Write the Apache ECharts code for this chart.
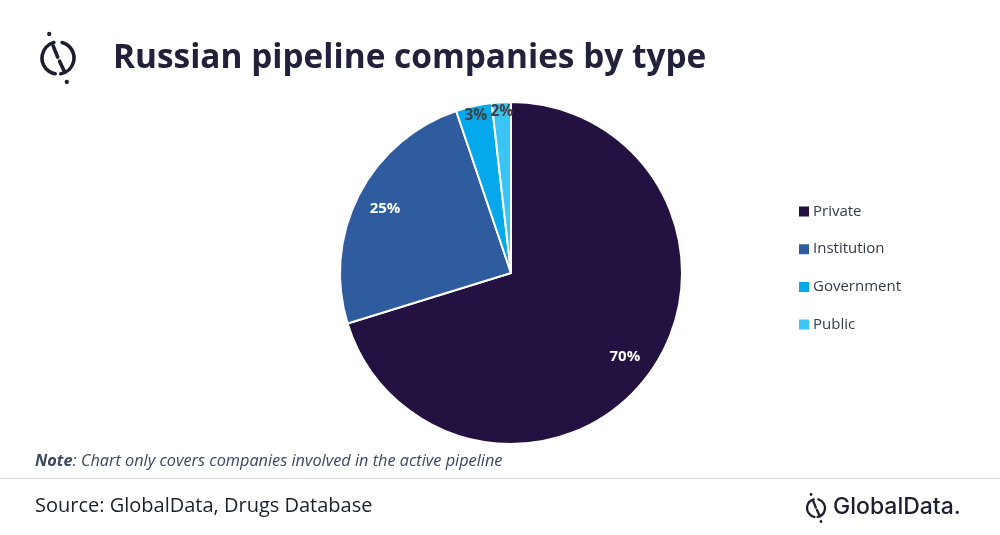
<!DOCTYPE html>
<html>
<head>
<meta charset="utf-8">
<script src="https://cdn.jsdelivr.net/npm/echarts@6/dist/echarts.min.js"></script>
<style>
html,body{margin:0;padding:0;background:#fff;}
#main{width:1000px;height:535px;}
</style>
</head>
<body>
<div id="main"></div>
<script>
var categories = ['Private', 'Institution', 'Government', 'Public'];
var values = [70.3, 24.6, 3.4, 1.8];
var colors = ['#221141', '#2E5C9E', '#05A8EA', '#3BC5F7'];
var titleText = 'Russian pipeline companies by type';
var noteLabel = 'Note';
var noteText = ': Chart only covers companies involved in the active pipeline';
var sourceText = 'Source: GlobalData, Drugs Database';
var brandText = 'GlobalData.';

var pieData = categories.map(function (c, i) {
  return { name: c, value: values[i], itemStyle: { color: colors[i] } };
});
function bigOnly(p) { return p.percent >= 10 ? p.percent + '%' : ''; }
function smallOnly(p) { return p.percent < 10 ? p.percent + '%' : ''; }

var chart = echarts.init(document.getElementById('main'), null, { renderer: 'canvas' });

function logo(cx, cy, r, lw, color) {
  var children = [];
  var d2r = Math.PI / 180;
  children.push({ type: 'arc', shape: { cx: cx, cy: cy, r: r, startAngle: 100 * d2r, endAngle: 255 * d2r, clockwise: true },
    style: { stroke: color, lineWidth: lw, fill: null, lineCap: 'round' } });
  children.push({ type: 'arc', shape: { cx: cx, cy: cy, r: r, startAngle: 285 * d2r, endAngle: 440 * d2r, clockwise: true },
    style: { stroke: color, lineWidth: lw, fill: null, lineCap: 'round' } });
  children.push({ type: 'line', shape: { x1: cx - r * 0.3, y1: cy - r * 0.75, x2: cx - r * 0.02, y2: cy - r * 0.05 },
    style: { stroke: color, lineWidth: lw, lineCap: 'round' } });
  children.push({ type: 'line', shape: { x1: cx + r * 0.1, y1: cy + r * 0.2, x2: cx + r * 0.4, y2: cy + r * 0.85 },
    style: { stroke: color, lineWidth: lw, lineCap: 'round' } });
  children.push({ type: 'circle', shape: { cx: cx - r * 0.55, cy: cy - r * 1.5, r: lw * 0.6 }, style: { fill: color } });
  children.push({ type: 'circle', shape: { cx: cx + r * 0.55, cy: cy + r * 1.5, r: lw * 0.6 }, style: { fill: color } });
  return { type: 'group', children: children, silent: true };
}

var option = {
  backgroundColor: '#ffffff',
  animation: false,
  legend: {
    orient: 'vertical',
    left: 797,
    top: 204,
    padding: 0,
    itemWidth: 12,
    itemHeight: 12,
    itemGap: 22.7,
    icon: 'rect',
    data: categories,
    selectedMode: false,
    textStyle: { fontFamily: 'Open Sans', fontSize: 15, color: '#333a4d', padding: [0, 0, 0, -2] }
  },
  series: [
    {
      type: 'pie',
      center: [511, 273],
      radius: [0, 171],
      startAngle: 90,
      clockwise: true,
      data: pieData,
      label: { show: false },
      labelLine: { show: false },
      itemStyle: { borderColor: '#ffffff', borderWidth: 2 },
      emphasis: { disabled: true },
      silent: true
    },
    {
      type: 'pie',
      center: [511, 273],
      radius: [106, 171],
      startAngle: 90,
      clockwise: true,
      percentPrecision: 0,
      data: categories.map(function (c, i) { return { name: c, value: values[i] }; }),
      itemStyle: { color: 'rgba(0,0,0,0)' },
      label: { show: true, position: 'inside', formatter: bigOnly,
        fontFamily: 'Open Sans', fontWeight: 'bold', fontSize: 15, color: '#ffffff' },
      labelLine: { show: false },
      emphasis: { disabled: true },
      silent: true
    },
    {
      type: 'pie',
      center: [511, 273],
      radius: [146, 171],
      startAngle: 90,
      clockwise: true,
      percentPrecision: 0,
      data: categories.map(function (c, i) { return { name: c, value: values[i] }; }),
      itemStyle: { color: 'rgba(0,0,0,0)' },
      label: { show: true, position: 'inside', formatter: smallOnly,
        fontFamily: 'Open Sans', fontWeight: 'bold', fontSize: 15.5, color: '#404040' },
      labelLine: { show: false },
      emphasis: { disabled: true },
      silent: true
    }
  ],
  graphic: [
    logo(58, 58, 16, 3.6, '#1f1d30'),
    {
      type: 'text', left: 113, top: 42, silent: true,
      style: { text: titleText, fontFamily: 'Open Sans', fontWeight: 'bold', fontSize: 33.4, fill: '#22203a' }
    },
    {
      type: 'text', left: 35, top: 453, silent: true,
      style: {
        text: '{b|' + noteLabel + '}{n|' + noteText + '}',
        rich: {
          b: { fontFamily: 'Open Sans', fontStyle: 'italic', fontWeight: 'bold', fontSize: 16.3, fill: '#3b4660' },
          n: { fontFamily: 'Open Sans', fontStyle: 'italic', fontSize: 16.3, fill: '#3b4660' }
        }
      }
    },
    {
      type: 'line', silent: true,
      shape: { x1: 0, y1: 478.5, x2: 1000, y2: 478.5 },
      style: { stroke: '#d9d9d9', lineWidth: 1 }
    },
    {
      type: 'text', left: 35, top: 496, silent: true,
      style: { text: sourceText, fontFamily: 'Open Sans', fontSize: 20, fill: '#1e1e2e' }
    },
    logo(816, 508, 9, 2.3, '#1f1d30'),
    {
      type: 'text', left: 833, top: 496, silent: true,
      style: { text: brandText, fontFamily: 'Inter', fontWeight: 500, fontSize: 23, fill: '#1f1d30' }
    }
  ]
};
chart.setOption(option);
</script>
</body>
</html>
